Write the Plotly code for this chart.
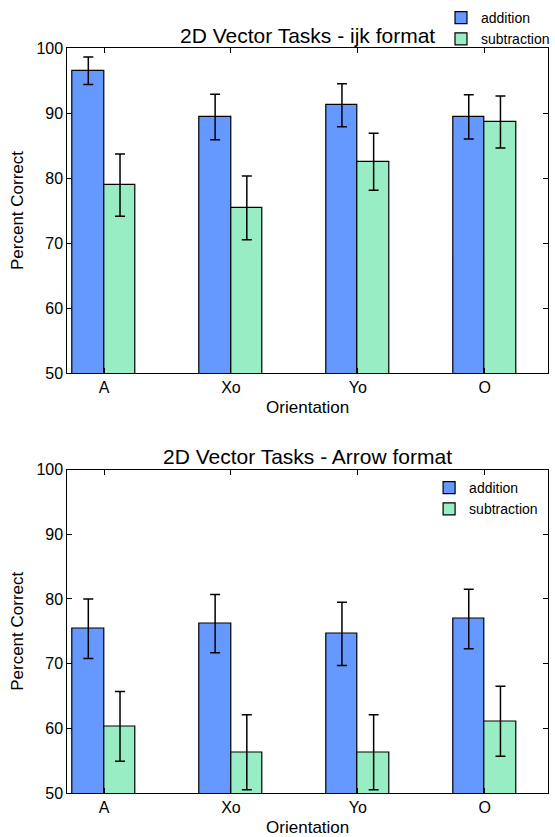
import plotly.graph_objects as go

categories = ["A", "Xo", "Yo", "O"]
series_names = ["addition", "subtraction"]

ijk_addition = [96.5, 89.4, 91.2, 89.4]
ijk_addition_err = [2.1, 3.5, 3.3, 3.4]
ijk_subtraction = [78.9, 75.4, 82.5, 88.6]
ijk_subtraction_err = [4.8, 4.9, 4.4, 4.0]

arrow_addition = [75.4, 76.2, 74.6, 76.9]
arrow_addition_err = [4.6, 4.5, 4.9, 4.6]
arrow_subtraction = [60.3, 56.3, 56.3, 61.1]
arrow_subtraction_err = [5.4, 5.8, 5.8, 5.4]

titles = ["2D Vector Tasks - ijk format", "2D Vector Tasks - Arrow format"]
y_ticks = [50, 60, 70, 80, 90, 100]

BLUE = "#6699FF"
GREEN = "#99EDC4"
FONT = "Liberation Sans, Arial, sans-serif"
W, H = 555, 837
BW = 0.25

fig = go.Figure()
idx = list(range(len(categories)))

panels = [
    (ijk_addition, ijk_addition_err, ijk_subtraction, ijk_subtraction_err, "x", "y", "legend"),
    (arrow_addition, arrow_addition_err, arrow_subtraction, arrow_subtraction_err, "x2", "y2", "legend2"),
]
for add, adde, sub, sube, xa, ya, lg in panels:
    for k, (vals, errs, col, name) in enumerate([(add, adde, BLUE, series_names[0]), (sub, sube, GREEN, series_names[1])]):
        fig.add_trace(go.Bar(
            x=[i + BW / 2 + k * BW for i in idx], y=vals, width=BW,
            marker=dict(color=col, line=dict(color="black", width=1.2)),
            error_y=dict(type="data", array=errs, color="black", thickness=1.5, width=5),
            name=name, xaxis=xa, yaxis=ya, legend=lg,
        ))

xdom = [68 / W, 553 / W]
ydoms = [[1 - 373 / H, 1 - 48 / H], [1 - 793 / H, 1 - 469.6 / H]]

axis_common = dict(showline=True, linecolor="black", linewidth=1.2, mirror="ticks",
                   ticks="inside", ticklen=5, tickcolor="black", showgrid=False, zeroline=False,
                   automargin=False,
                   tickfont=dict(family=FONT, size=16, color="black"))

for n, (xa, ya) in enumerate([("xaxis", "yaxis"), ("xaxis2", "yaxis2")]):
    fig.update_layout({
        xa: dict(domain=xdom, range=[-0.04, 3.75], tickvals=[i + BW for i in idx], ticktext=categories,
                 anchor="y" if n == 0 else "y2",
                 title=dict(text="Orientation", font=dict(family=FONT, size=17, color="black"), standoff=5),
                 **axis_common),
        ya: dict(domain=ydoms[n], range=[50, 100], tickvals=y_ticks, anchor="x" if n == 0 else "x2",
                 title=dict(text="Percent Correct", font=dict(family=FONT, size=17, color="black"), standoff=8),
                 **axis_common),
    })

fig.add_annotation(text=titles[0], x=310.5 / W, y=1 - 35 / H, xref="paper", yref="paper",
                   showarrow=False, font=dict(family=FONT, size=21, color="black"), yanchor="middle")
fig.add_annotation(text=titles[1], x=310.5 / W, y=1 - 456 / H, xref="paper", yref="paper",
                   showarrow=False, font=dict(family=FONT, size=21, color="black"), yanchor="middle")

legend_common = dict(font=dict(family=FONT, size=14, color="black"), bgcolor="rgba(0,0,0,0)",
                     itemwidth=30, tracegroupgap=0, xanchor="left", yanchor="top")
fig.update_layout(
    width=W, height=H, plot_bgcolor="white", paper_bgcolor="white",
    margin=dict(l=0, r=0, t=0, b=0), barmode="overlay", bargap=0, showlegend=True,
    legend=dict(x=445 / W, y=1 - 2 / H, **legend_common),
    legend2=dict(x=433 / W, y=1 - 472 / H, **legend_common),
)

fig.write_html("out.html", config={"displayModeBar": False},
               post_script="document.body.style.margin='0';")
